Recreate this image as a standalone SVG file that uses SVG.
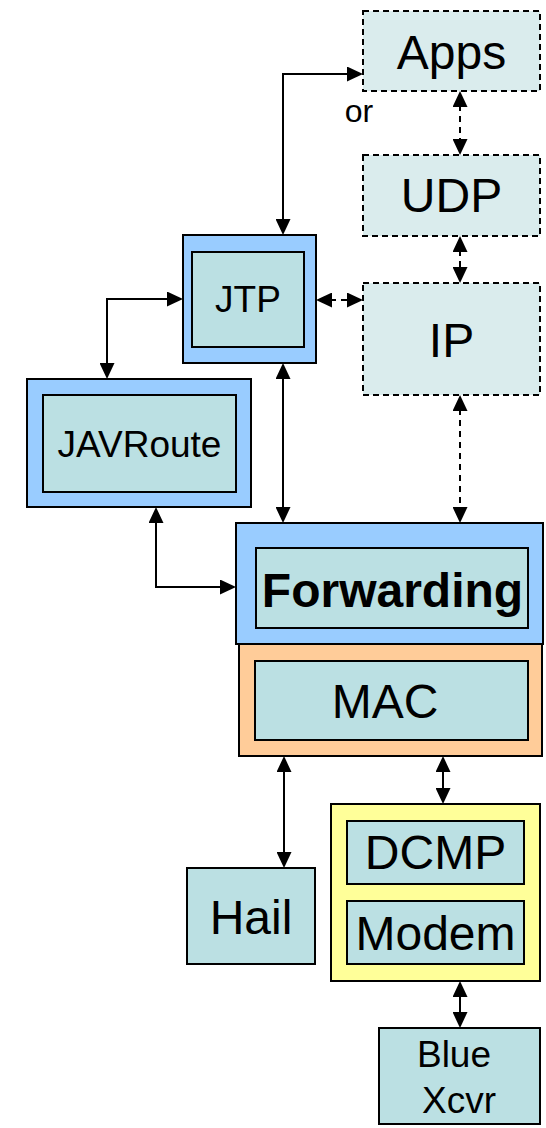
<svg xmlns="http://www.w3.org/2000/svg" width="546" height="1128" viewBox="0 0 546 1128">
  <defs>
    <marker id="arrow" viewBox="0 0 16 15" refX="13" refY="7.5" markerWidth="16" markerHeight="15" markerUnits="userSpaceOnUse" orient="auto-start-reverse">
      <path d="M0,0 L16,7.5 L0,15 z" fill="#000"/>
    </marker>
    <style>
      text { font-family: "Liberation Sans", Arial, sans-serif; fill: #000; text-anchor: middle; }
      .big { font-size: 48px; }
      .mid { font-size: 37px; }
      .bold { font-weight: bold; }
      .box { stroke: #000; stroke-width: 2; }
      .outer-blue { fill: #99CCFF; }
      .inner { fill: #BBE0E3; }
      .orange { fill: #FFCC99; }
      .yellow { fill: #FFFF99; }
      .ext { fill: #DAECED; stroke: #000; stroke-width: 2; stroke-dasharray: 6 4; }
      .link { fill: none; stroke: #000; stroke-width: 2; marker-start: url(#arrow); marker-end: url(#arrow); }
      .dash { stroke-dasharray: 6 5; }
    </style>
  </defs>

  <!-- external stack (dashed) -->
  <g id="apps">
    <rect class="ext" x="363" y="11" width="177" height="80"/>
    <text class="big" x="451.5" y="69">Apps</text>
  </g>
  <g id="udp">
    <rect class="ext" x="363" y="155" width="177" height="81"/>
    <text class="big" x="451.5" y="212">UDP</text>
  </g>
  <g id="ip">
    <rect class="ext" x="363" y="283" width="177" height="112"/>
    <text class="big" x="451.5" y="357">IP</text>
  </g>

  <g id="or-label">
    <text x="359" y="122" style="font-size:32px">or</text>
  </g>

  <!-- protocol modules -->
  <g id="jtp">
    <rect class="box outer-blue" x="183" y="235" width="133" height="128"/>
    <rect class="box inner" x="192" y="252" width="112" height="95"/>
    <text class="mid" x="248" y="312">JTP</text>
  </g>
  <g id="javroute">
    <rect class="box outer-blue" x="27" y="379" width="224" height="128"/>
    <rect class="box inner" x="43" y="395" width="193" height="97"/>
    <text class="mid" x="139.5" y="457">JAVRoute</text>
  </g>
  <g id="forwarding">
    <rect class="box outer-blue" x="236" y="523" width="307" height="121"/>
    <rect class="box inner" x="256" y="548" width="272" height="80"/>
    <text class="big bold" x="392.5" y="607">Forwarding</text>
  </g>
  <g id="mac">
    <rect class="box orange" x="239" y="644" width="303" height="112"/>
    <rect class="box inner" x="255" y="661" width="273" height="79"/>
    <text class="big" x="385" y="718">MAC</text>
  </g>
  <g id="hail">
    <rect class="box inner" x="187" y="868" width="128" height="96"/>
    <text class="big" x="251" y="934">Hail</text>
  </g>
  <g id="radio">
    <rect class="box yellow" x="331" y="804" width="209" height="177"/>
    <g id="dcmp">
      <rect class="box inner" x="347" y="821" width="177" height="63"/>
      <text class="big" x="435.5" y="869">DCMP</text>
    </g>
    <g id="modem">
      <rect class="box inner" x="347" y="901" width="177" height="63"/>
      <text class="big" x="435.5" y="950">Modem</text>
    </g>
  </g>
  <g id="blue-xcvr">
    <rect class="box inner" x="379" y="1028" width="161" height="96"/>
    <text class="mid" x="454" y="1067">Blue</text>
    <text class="mid" x="459" y="1113">Xcvr</text>
  </g>

  <!-- connectors -->
  <g id="connectors">
    <path class="link" d="M283,232 V74 H360"/>
    <path class="link" d="M180,299 H107 V376"/>
    <path class="link" d="M283,366 V520"/>
    <path class="link" d="M156,510 V587 H233"/>
    <path class="link dash" d="M319,300 H360"/>
    <path class="link dash" d="M460,94 V152"/>
    <path class="link dash" d="M460,239 V280"/>
    <path class="link dash" d="M460,398 V520"/>
    <path class="link" d="M284,759 V865"/>
    <path class="link" d="M443,759 V801"/>
    <path class="link" d="M460,984 V1025"/>
  </g>
</svg>
